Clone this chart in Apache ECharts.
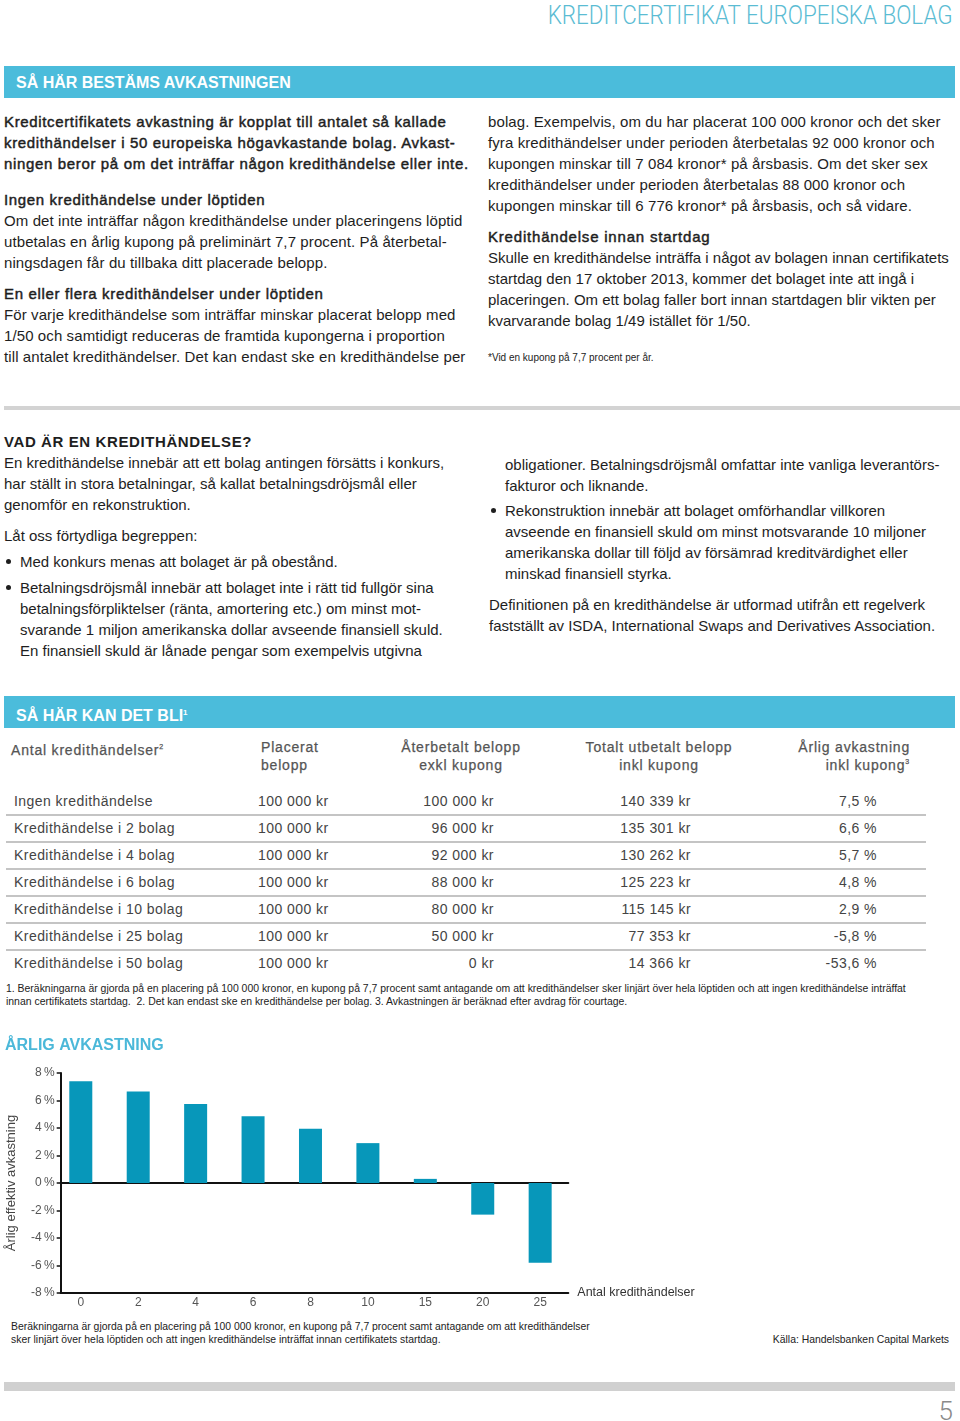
<!DOCTYPE html>
<html lang="sv">
<head>
<meta charset="utf-8">
<script src="https://cdn.jsdelivr.net/npm/echarts@6/dist/echarts.min.js"></script>
<style>
  html,body{margin:0;padding:0;background:#fff;}
  body{width:960px;height:1421px;position:relative;overflow:hidden;font-family:"Liberation Sans",Arial,sans-serif;color:#1e1e1e;}
  .abs{position:absolute;}
  .txt{font-size:15px;line-height:21px;white-space:nowrap;}
  .s1{letter-spacing:0.1px;}
  .med{-webkit-text-stroke:0.45px #1e1e1e;letter-spacing:0.65px;}
  .banner{position:absolute;left:4px;width:951px;height:32px;background:#4bbcdb;color:#fff;font-weight:bold;font-size:16px;line-height:33px;padding-left:12px;box-sizing:border-box;}
  .banner sup{font-size:8px;vertical-align:6px;}
  .bul{position:absolute;width:5px;height:5px;border-radius:50%;background:#1e1e1e;}
  .th{position:absolute;font-size:14px;line-height:18px;color:#555;letter-spacing:0.8px;white-space:nowrap;-webkit-text-stroke:0.25px #555;}
  .td{position:absolute;font-size:14px;line-height:18px;color:#444;letter-spacing:0.45px;white-space:nowrap;}
  .sep{position:absolute;left:6px;width:920px;height:1.5px;background:#c4c4c4;}
  .small{font-size:10.4px;line-height:13px;white-space:nowrap;color:#222;}
</style>
</head>
<body>
<script>
// ---- chart data ----
const creditEvents = ["0", "2", "4", "6", "8", "10", "15", "20", "25"];
const annualReturn = [7.4, 6.65, 5.75, 4.85, 3.95, 2.9, 0.3, -2.3, -5.8];
const yTicks = [-8, -6, -4, -2, 0, 2, 4, 6, 8];

// ---- table data ----
const tableRowLabels = ["Ingen kredithändelse", "Kredithändelse i 2 bolag", "Kredithändelse i 4 bolag", "Kredithändelse i 6 bolag", "Kredithändelse i 10 bolag", "Kredithändelse i 25 bolag", "Kredithändelse i 50 bolag"];
const placeratBelopp = ["100 000 kr", "100 000 kr", "100 000 kr", "100 000 kr", "100 000 kr", "100 000 kr", "100 000 kr"];
const aterbetaltBelopp = ["100 000 kr", "96 000 kr", "92 000 kr", "88 000 kr", "80 000 kr", "50 000 kr", "0 kr"];
const totaltUtbetalt = ["140 339 kr", "135 301 kr", "130 262 kr", "125 223 kr", "115 145 kr", "77 353 kr", "14 366 kr"];
const arligAvkastning = ["7,5 %", "6,6 %", "5,7 %", "4,8 %", "2,9 %", "-5,8 %", "-53,6 %"];
</script>

<div id="hdr" class="abs" style="top:0px;right:7px;font-family:Roboto,'Liberation Sans';font-weight:300;font-size:26px;line-height:30px;color:#5bbcd3;white-space:nowrap;transform-origin:right center;">KREDITCERTIFIKAT EUROPEISKA BOLAG</div>

<div class="banner" style="top:66px;">SÅ HÄR BESTÄMS AVKASTNINGEN</div>

<!-- left column, section 1 -->
<div class="abs txt med" style="left:4px;top:110.5px;">Kreditcertifikatets avkastning är kopplat till antalet så kallade<br>kredithändelser i 50 europeiska högavkastande bolag. Avkast-<br>ningen beror på om det inträffar någon kredithändelse eller inte.</div>
<div class="abs txt s1" style="left:4px;top:188.5px;"><span class="med">Ingen kredithändelse under löptiden</span><br>Om det inte inträffar någon kredithändelse under placeringens löptid<br>utbetalas en årlig kupong på preliminärt 7,7 procent. På återbetal-<br>ningsdagen får du tillbaka ditt placerade belopp.</div>
<div class="abs txt s1" style="left:4px;top:282.5px;"><span class="med">En eller flera kredithändelser under löptiden</span><br>För varje kredithändelse som inträffar minskar placerat belopp med<br>1/50 och samtidigt reduceras de framtida kupongerna i proportion<br>till antalet kredithändelser. Det kan endast ske en kredithändelse per</div>

<!-- right column, section 1 -->
<div class="abs txt s1" style="left:488px;top:110.5px;">bolag. Exempelvis, om du har placerat 100 000 kronor och det sker<br>fyra kredithändelser under perioden återbetalas 92 000 kronor och<br>kupongen minskar till 7 084 kronor* på årsbasis. Om det sker sex<br>kredithändelser under perioden återbetalas 88 000 kronor och<br>kupongen minskar till 6 776 kronor* på årsbasis, och så vidare.</div>
<div class="abs txt" style="left:488px;top:225.5px;"><span class="med" style="letter-spacing:0.8px;">Kredithändelse innan startdag</span><br>Skulle en kredithändelse inträffa i något av bolagen innan certifikatets<br>startdag den 17 oktober 2013, kommer det bolaget inte att ingå i<br>placeringen. Om ett bolag faller bort innan startdagen blir vikten per<br>kvarvarande bolag 1/49 istället för 1/50.</div>
<div class="abs small" style="left:488px;top:350.5px;font-size:10px;">*Vid en kupong på 7,7 procent per år.</div>

<div class="abs" style="left:4px;top:406px;width:956px;height:4px;background:#d3d3d3;"></div>

<!-- section 2 -->
<div class="abs txt" style="left:4px;top:430.5px;font-weight:bold;letter-spacing:0.6px;">VAD ÄR EN KREDITHÄNDELSE?</div>
<div class="abs txt" style="left:4px;top:451.5px;">En kredithändelse innebär att ett bolag antingen försätts i konkurs,<br>har ställt in stora betalningar, så kallat betalningsdröjsmål eller<br>genomför en rekonstruktion.</div>
<div class="abs txt" style="left:4px;top:524.5px;">Låt oss förtydliga begreppen:</div>
<div class="bul" style="left:6px;top:559px;"></div>
<div class="abs txt" style="left:20px;top:550.5px;">Med konkurs menas att bolaget är på obestånd.</div>
<div class="bul" style="left:6px;top:585px;"></div>
<div class="abs txt" style="left:20px;top:576.5px;">Betalningsdröjsmål innebär att bolaget inte i rätt tid fullgör sina<br>betalningsförpliktelser (ränta, amortering etc.) om minst mot-<br>svarande 1 miljon amerikanska dollar avseende finansiell skuld.<br>En finansiell skuld är lånade pengar som exempelvis utgivna</div>

<div class="abs txt" style="left:505px;top:453.5px;">obligationer. Betalningsdröjsmål omfattar inte vanliga leverantörs-<br>fakturor och liknande.</div>
<div class="bul" style="left:491px;top:508px;"></div>
<div class="abs txt" style="left:505px;top:499.5px;">Rekonstruktion innebär att bolaget omförhandlar villkoren<br>avseende en finansiell skuld om minst motsvarande 10 miljoner<br>amerikanska dollar till följd av försämrad kreditvärdighet eller<br>minskad finansiell styrka.</div>
<div class="abs txt" style="left:489px;top:593.5px;">Definitionen på en kredithändelse är utformad utifrån ett regelverk<br>fastställt av ISDA, International Swaps and Derivatives Association.</div>

<div class="banner" style="top:696px;">SÅ HÄR KAN DET BLI<sup>1</sup></div>

<!-- table -->
<div id="tbl"></div>

<div class="abs" style="left:6px;top:981.5px;font-size:10.45px;line-height:13px;white-space:nowrap;color:#222;">1. Beräkningarna är gjorda på en placering på 100 000 kronor, en kupong på 7,7 procent samt antagande om att kredithändelser sker linjärt över hela löptiden och att ingen kredithändelse inträffat<br>innan certifikatets startdag.&nbsp; 2. Det kan endast ske en kredithändelse per bolag. 3. Avkastningen är beräknad efter avdrag för courtage.</div>

<div id="chart" class="abs" style="left:0;top:1030px;width:960px;height:285px;"></div>

<div class="abs small" style="left:11px;top:1319.5px;">Beräkningarna är gjorda på en placering på 100 000 kronor, en kupong på 7,7 procent samt antagande om att kredithändelser<br>sker linjärt över hela löptiden och att ingen kredithändelse inträffat innan certifikatets startdag.</div>
<div class="abs small" style="right:11px;top:1332.5px;">Källa: Handelsbanken Capital Markets</div>

<div class="abs" style="left:4px;top:1382px;width:951px;height:9px;background:#d0d0d0;"></div>
<div class="abs" style="right:7px;top:1396px;font-family:Roboto,'Liberation Sans';font-weight:300;font-size:26px;line-height:30px;color:#8a8a8a;">5</div>

<script>
// header width fit
(function(){
  const h = document.getElementById('hdr');
  const w = h.getBoundingClientRect().width;
  h.style.transform = 'scaleX(' + (405 / w) + ')';
})();

// build table from arrays
(function(){
  const t = document.getElementById('tbl');
  let html = '';
  html += '<div class="th" style="left:11px;top:738px;">Antal kredithändelser<sup style="font-size:7px;">2</sup></div>';
  html += '<div class="th" style="left:261px;top:738px;">Placerat<br>belopp</div>';
  html += '<div class="th" style="left:361px;width:200px;text-align:center;top:738px;">Återbetalt belopp<br>exkl kupong</div>';
  html += '<div class="th" style="left:559px;width:200px;text-align:center;top:738px;">Totalt utbetalt belopp<br>inkl kupong</div>';
  html += '<div class="th" style="right:50px;text-align:right;top:738px;">Årlig avkastning<br>inkl kupong<sup style="font-size:7px;line-height:0;">3</sup></div>';
  const rowH = 27, firstCenter = 801;
  tableRowLabels.forEach((lab, i) => {
    const top = firstCenter + i * rowH - 9;
    html += '<div class="td" style="left:14px;top:' + top + 'px;">' + lab + '</div>';
    html += '<div class="td" style="left:258px;top:' + top + 'px;">' + placeratBelopp[i] + '</div>';
    html += '<div class="td" style="right:' + (960 - 494) + 'px;text-align:right;top:' + top + 'px;">' + aterbetaltBelopp[i] + '</div>';
    html += '<div class="td" style="right:' + (960 - 691) + 'px;text-align:right;top:' + top + 'px;">' + totaltUtbetalt[i] + '</div>';
    html += '<div class="td" style="right:' + (960 - 877) + 'px;text-align:right;top:' + top + 'px;">' + arligAvkastning[i] + '</div>';
    if (i < tableRowLabels.length - 1) {
      html += '<div class="sep" style="top:' + (firstCenter + i * rowH + 13) + 'px;"></div>';
    }
  });
  t.innerHTML = html;
})();

// chart
(function(){
  const chart = echarts.init(document.getElementById('chart'), null, {renderer: 'canvas'});
  const idx = creditEvents.map((c, i) => i);
  const xMin = -0.35, xMax = 8.49;
  const axisStroke = {color: '#111', width: 2};
  chart.setOption({
    animation: false,
    textStyle: {fontFamily: 'Liberation Sans, Arial, sans-serif'},
    title: {
      text: 'ÅRLIG AVKASTNING', left: 0, top: 3,
      textStyle: {color: '#4bb8d9', fontSize: 16, fontWeight: 'bold', fontFamily: 'Liberation Sans'}
    },
    grid: {left: 60.7, top: 43, width: 507.6, height: 220, containLabel: false, outerBoundsMode: 'none'},
    xAxis: [
      {
        type: 'value', min: xMin, max: xMax, position: 'bottom',
        axisLine: {show: true, onZero: false, lineStyle: axisStroke},
        axisTick: {show: false}, splitLine: {show: false},
        axisLabel: {customValues: idx, formatter: v => creditEvents[Math.round(v)], color: '#555', fontSize: 12, margin: 4},
        name: 'Antal kredithändelser', nameLocation: 'end', nameGap: 9,
        nameTextStyle: {color: '#333', fontSize: 12.5, padding: [0, 0, 3, 0]}
      },
      {
        type: 'value', min: xMin, max: xMax, position: 'top',
        axisLine: {show: true, onZero: true, lineStyle: axisStroke},
        axisTick: {show: false}, axisLabel: {show: false}, splitLine: {show: false}
      }
    ],
    yAxis: {
      type: 'value', min: yTicks[0], max: yTicks[yTicks.length - 1], interval: 2,
      axisLine: {show: true, onZero: false, lineStyle: axisStroke},
      axisTick: {show: true, length: 4, lineStyle: {color: '#111', width: 1.5}},
      splitLine: {show: false},
      axisLabel: {formatter: v => v + '\u2009%', color: '#555', fontSize: 12, margin: 6},
      name: 'Årlig effektiv avkastning', nameLocation: 'middle', nameGap: 43,
      nameTextStyle: {color: '#444', fontSize: 13}
    },
    series: [{
      type: 'bar', xAxisIndex: 0, barWidth: 23,
      itemStyle: {color: '#0797ba'},
      data: annualReturn.map((v, i) => [i, v])
    }]
  });
})();
</script>
</body>
</html>
